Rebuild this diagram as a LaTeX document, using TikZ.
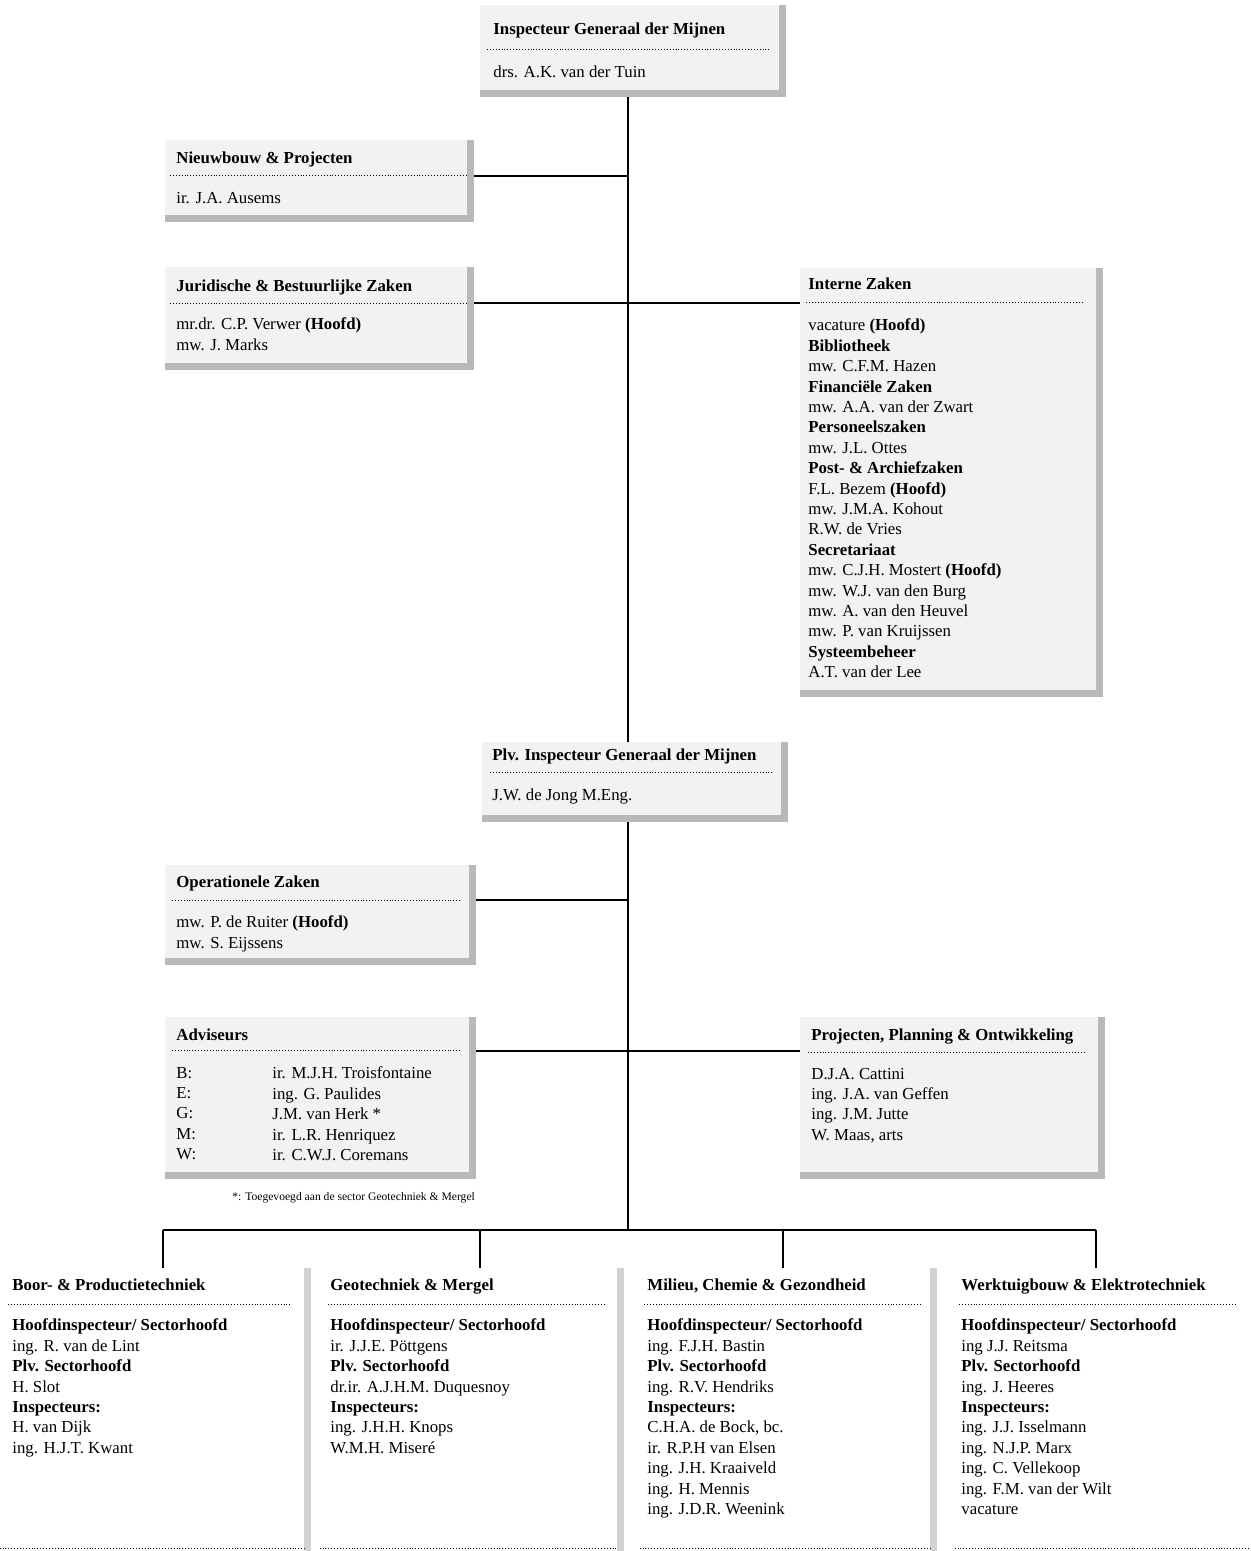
\documentclass[tikz,border=0pt]{standalone}
\usepackage{fontspec}
\setmainfont{Liberation Serif}
\usepackage{tikz}
\usetikzlibrary{positioning,calc,fit}

\tikzset{
  panel/.style={fill=gray!10, inner sep=0pt},
  sector/.style={inner sep=0pt},
  rim/.style={fill=gray!55},
  lightrim/.style={fill=gray!35},
  sep/.style={densely dotted, line width=0.45pt},
  link/.style={line width=0.9pt},
  txt/.style={anchor=base west, inner sep=0pt, align=left, font=\fontsize{8.4}{10.2}\selectfont},
  head/.style={txt, font=\fontsize{8.4}{10.2}\selectfont\bfseries},
  block/.style={txt, anchor=north west, yshift=7.2pt, execute at begin node={\rule{0pt}{7.2pt}}},
}

\begin{document}
\begin{tikzpicture}[x=0.5pt,y=-0.5pt]
\useasboundingbox (0,0) rectangle (1250,1551);

% Staff panels
\node[panel, fit={(480,5) (786,97)}] (igm) {};
\node[panel, fit={(165,140) (474,222)}] (nieuw) {};
\node[panel, fit={(165,267) (474,370)}] (jur) {};
\node[panel, fit={(800,268) (1103,697)}] (intern) {};
\node[panel, fit={(482,742) (788,822)}] (plv) {};
\node[panel, fit={(165,865) (476,965)}] (oper) {};
\node[panel, fit={(165,1017) (476,1179)}] (adv) {};
\node[panel, fit={(800,1017) (1105,1179)}] (proj) {};
\foreach \b in {igm,nieuw,jur,intern,plv,oper,adv,proj} {
  \fill[rim] ([xshift=-3.5pt]\b.north east) rectangle (\b.south east);
  \fill[rim] ([yshift=3.5pt]\b.south west) rectangle (\b.south east);
}

% Inspecteur Generaal
\node[head] (igmT) at (493,35) {Inspecteur Generaal der Mijnen};
\draw[sep] (487,49) -- (770,49);
\node[txt] (igmN) at (493,78) {drs. A.K. van der Tuin};

% Nieuwbouw
\node[head] (nieuwT) at (176,164) {Nieuwbouw \& Projecten};
\draw[sep] (170,175) -- (466,175);
\node[txt] (nieuwN) at (176,204) {ir. J.A. Ausems};

% Juridische Zaken
\node[head] (jurT) at (176,292) {Juridische \& Bestuurlijke Zaken};
\draw[sep] (170,303) -- (466,303);
\node[block] (jurN) at (176,332) {mr.dr. C.P. Verwer \textbf{(Hoofd)}\\mw. J. Marks};

% Interne Zaken
\node[head] (internT) at (808,290) {Interne Zaken};
\draw[sep] (806,302) -- (1083,302);
\node[block] (internN) at (808,333) {vacature \textbf{(Hoofd)}\\\textbf{Bibliotheek}\\mw. C.F.M. Hazen\\
  \textbf{Financiële Zaken}\\mw. A.A. van der Zwart\\\textbf{Personeelszaken}\\mw. J.L. Ottes\\
  \textbf{Post- \& Archiefzaken}\\F.L. Bezem \textbf{(Hoofd)}\\mw. J.M.A. Kohout\\R.W. de Vries\\
  \textbf{Secretariaat}\\mw. C.J.H. Mostert \textbf{(Hoofd)}\\mw. W.J. van den Burg\\
  mw. A. van den Heuvel\\mw. P. van Kruijssen\\\textbf{Systeembeheer}\\A.T. van der Lee};

% Plv. Inspecteur Generaal
\node[head] (plvT) at (492,760) {Plv. Inspecteur Generaal der Mijnen};
\draw[sep] (490,772) -- (772,772);
\node[txt] (plvN) at (492,800) {J.W. de Jong M.Eng.};

% Operationele Zaken
\node[head] (operT) at (176,887) {Operationele Zaken};
\draw[sep] (172,900) -- (460,900);
\node[block] (operN) at (176,930) {mw. P. de Ruiter \textbf{(Hoofd)}\\mw. S. Eijssens};

% Adviseurs
\node[head] (advT) at (176,1040) {Adviseurs};
\draw[sep] (172,1050) -- (460,1050);
\node[block] (advL) at (176,1081) {B:\\E:\\G:\\M:\\W:};
\node[block] (advN) at (272,1081) {ir. M.J.H. Troisfontaine\\ing. G. Paulides\\J.M. van Herk *\\
  ir. L.R. Henriquez\\ir. C.W.J. Coremans};
\node[txt, font=\fontsize{5.8}{7}\selectfont] (advF) at (232,1200) {*: Toegevoegd aan de sector Geotechniek \& Mergel};

% Projecten, Planning & Ontwikkeling
\node[head] (projT) at (811,1040) {Projecten, Planning \& Ontwikkeling};
\draw[sep] (808,1052) -- (1085,1052);
\node[block] (projN) at (811,1082) {D.J.A. Cattini\\ing. J.A. van Geffen\\ing. J.M. Jutte\\W. Maas, arts};

% Sectors
\node[sector, fit={(0,1268) (311,1551)}] (boor) {};
\node[sector, fit={(320,1268) (624,1551)}] (geo) {};
\node[sector, fit={(640,1268) (937,1551)}] (milieu) {};
\node[sector, fit={(955,1268) (1250,1551)}] (werk) {};
\foreach \b in {boor,geo,milieu} {
  \fill[lightrim] ([xshift=-3.5pt]\b.north east) rectangle (\b.south east);
  \draw[sep] ([yshift=1.5pt]\b.south west) -- ([xshift=-3.5pt,yshift=1.5pt]\b.south east);
}
\draw[sep] ([yshift=1.5pt]werk.south west) -- ([yshift=1.5pt]werk.south east);

\node[head] (boorT) at (12,1290) {Boor- \& Productietechniek};
\draw[sep] (8,1304) -- (290,1304);
\node[block] (boorN) at (12,1333) {\textbf{Hoofdinspecteur/ Sectorhoofd}\\ing. R. van de Lint\\
  \textbf{Plv. Sectorhoofd}\\H. Slot\\\textbf{Inspecteurs:}\\H. van Dijk\\ing. H.J.T. Kwant};

\node[head] (geoT) at (330,1290) {Geotechniek \& Mergel};
\draw[sep] (328,1304) -- (604,1304);
\node[block] (geoN) at (330,1333) {\textbf{Hoofdinspecteur/ Sectorhoofd}\\ir. J.J.E. Pöttgens\\
  \textbf{Plv. Sectorhoofd}\\dr.ir. A.J.H.M. Duquesnoy\\\textbf{Inspecteurs:}\\ing. J.H.H. Knops\\W.M.H. Miseré};

\node[head] (milieuT) at (647,1290) {Milieu, Chemie \& Gezondheid};
\draw[sep] (644,1304) -- (921,1304);
\node[block] (milieuN) at (647,1333) {\textbf{Hoofdinspecteur/ Sectorhoofd}\\ing. F.J.H. Bastin\\
  \textbf{Plv. Sectorhoofd}\\ing. R.V. Hendriks\\\textbf{Inspecteurs:}\\C.H.A. de Bock, bc.\\
  ir. R.P.H van Elsen\\ing. J.H. Kraaiveld\\ing. H. Mennis\\ing. J.D.R. Weenink};

\node[head] (werkT) at (961,1290) {Werktuigbouw \& Elektrotechniek};
\draw[sep] (959,1304) -- (1237,1304);
\node[block] (werkN) at (961,1333) {\textbf{Hoofdinspecteur/ Sectorhoofd}\\ing J.J. Reitsma\\
  \textbf{Plv. Sectorhoofd}\\ing. J. Heeres\\\textbf{Inspecteurs:}\\ing. J.J. Isselmann\\
  ing. N.J.P. Marx\\ing. C. Vellekoop\\ing. F.M. van der Wilt\\vacature};

% Lines
\coordinate (tk) at (628,1230);
\coordinate (jN) at (628,176);
\coordinate (jJ) at (628,303);
\coordinate (jO) at (628,900);
\coordinate (jA) at (628,1051);
\draw[link] (tk |- igm.south) -- (tk |- plv.north);
\draw[link] (tk |- plv.south) -- (tk);
\draw[link] (jN -| nieuw.east) -- (jN);
\draw[link] (jJ -| jur.east) -- (jJ -| intern.west);
\draw[link] (jO -| oper.east) -- (jO);
\draw[link] (jA -| adv.east) -- (jA -| proj.west);

\coordinate (d1) at (163,1230);
\coordinate (d2) at (480,1230);
\coordinate (d3) at (783,1230);
\coordinate (d4) at (1096,1230);
\draw[link] (d1) -- (d4);
\foreach \d/\b in {d1/boor,d2/geo,d3/milieu,d4/werk}
  \draw[link] (\d) -- (\d |- \b.north);
\end{tikzpicture}
\end{document}
